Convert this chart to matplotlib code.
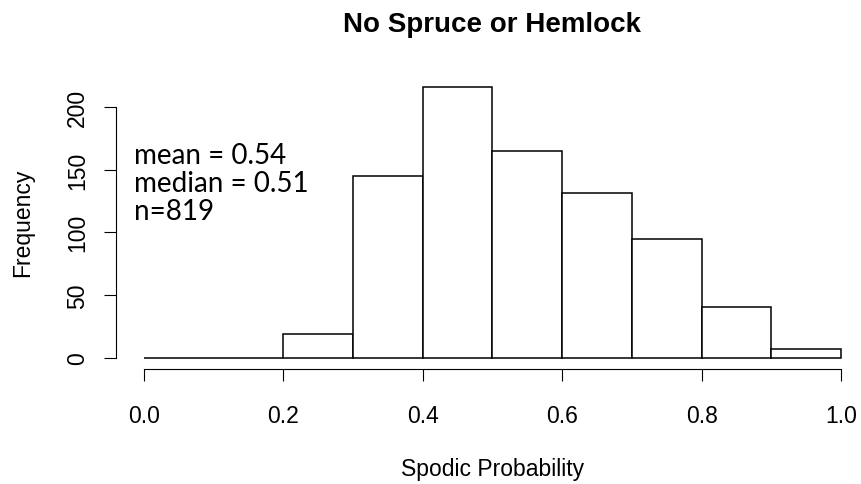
import matplotlib.pyplot as plt
import numpy as np

# Histogram counts per 0.1 bin of spodic probability
bin_edges = [0.0, 0.1, 0.2, 0.3, 0.4, 0.5, 0.6, 0.7, 0.8, 0.9, 1.0]
counts = [0, 0, 19, 145, 216, 165, 131, 95, 41, 7]
x_ticks = [0.0, 0.2, 0.4, 0.6, 0.8, 1.0]
y_ticks = [0, 50, 100, 150, 200]
stats_lines = ["mean = 0.54", "median = 0.51", "n=819"]

W, H = 861, 485
fig = plt.figure(figsize=(W / 100, H / 100), dpi=100)
ax = fig.add_axes([116 / W, 1 - 369.9 / H, 753 / W, 293.2 / H])

edges = np.array(bin_edges)
ax.bar(edges[:-1], counts, width=np.diff(edges), align="edge",
       color="white", edgecolor="black", linewidth=1.1)

ax.set_xlim(-0.04, 1.04)
ax.set_ylim(-0.04 * max(counts), 1.04 * max(counts))

for side in ["top", "right"]:
    ax.spines[side].set_visible(False)
ax.spines["bottom"].set_bounds(0, 1)
ax.spines["left"].set_bounds(0, 200)
ax.spines["bottom"].set_linewidth(0.8)
ax.spines["left"].set_linewidth(0.8)

ax.set_xticks(x_ticks)
ax.set_xticklabels([f"{v:.1f}" for v in x_ticks], fontsize=16.5, family="Liberation Sans")
ax.set_yticks(y_ticks)
ax.set_yticklabels([str(v) for v in y_ticks], fontsize=16.5, family="Liberation Sans",
                   rotation=90, va="center")
ax.tick_params(axis="both", direction="out", length=8.6, width=0.8)
ax.tick_params(axis="x", pad=17)
ax.tick_params(axis="y", pad=11)

ax.set_xlabel("Spodic Probability", fontsize=16.5, family="Liberation Sans", va="center")
ax.xaxis.set_label_coords(0.5, (369.9 - 470) / 293.2)
ax.set_ylabel("Frequency", fontsize=16.5, family="Liberation Sans", va="center")
ax.yaxis.set_label_coords((23 - 116) / 753, 0.5)

fig.text(492.5 / W, 1 - 32 / H, "No Spruce or Hemlock", ha="center", va="baseline",
         fontsize=20, fontweight="bold", family="Liberation Sans")

for i, line in enumerate(stats_lines):
    fig.text(134 / W, 1 - (163.5 + 28.3 * i) / H, line, ha="left", va="baseline",
             fontsize=20, family="Lato")

fig.savefig("out.png", dpi=100)
